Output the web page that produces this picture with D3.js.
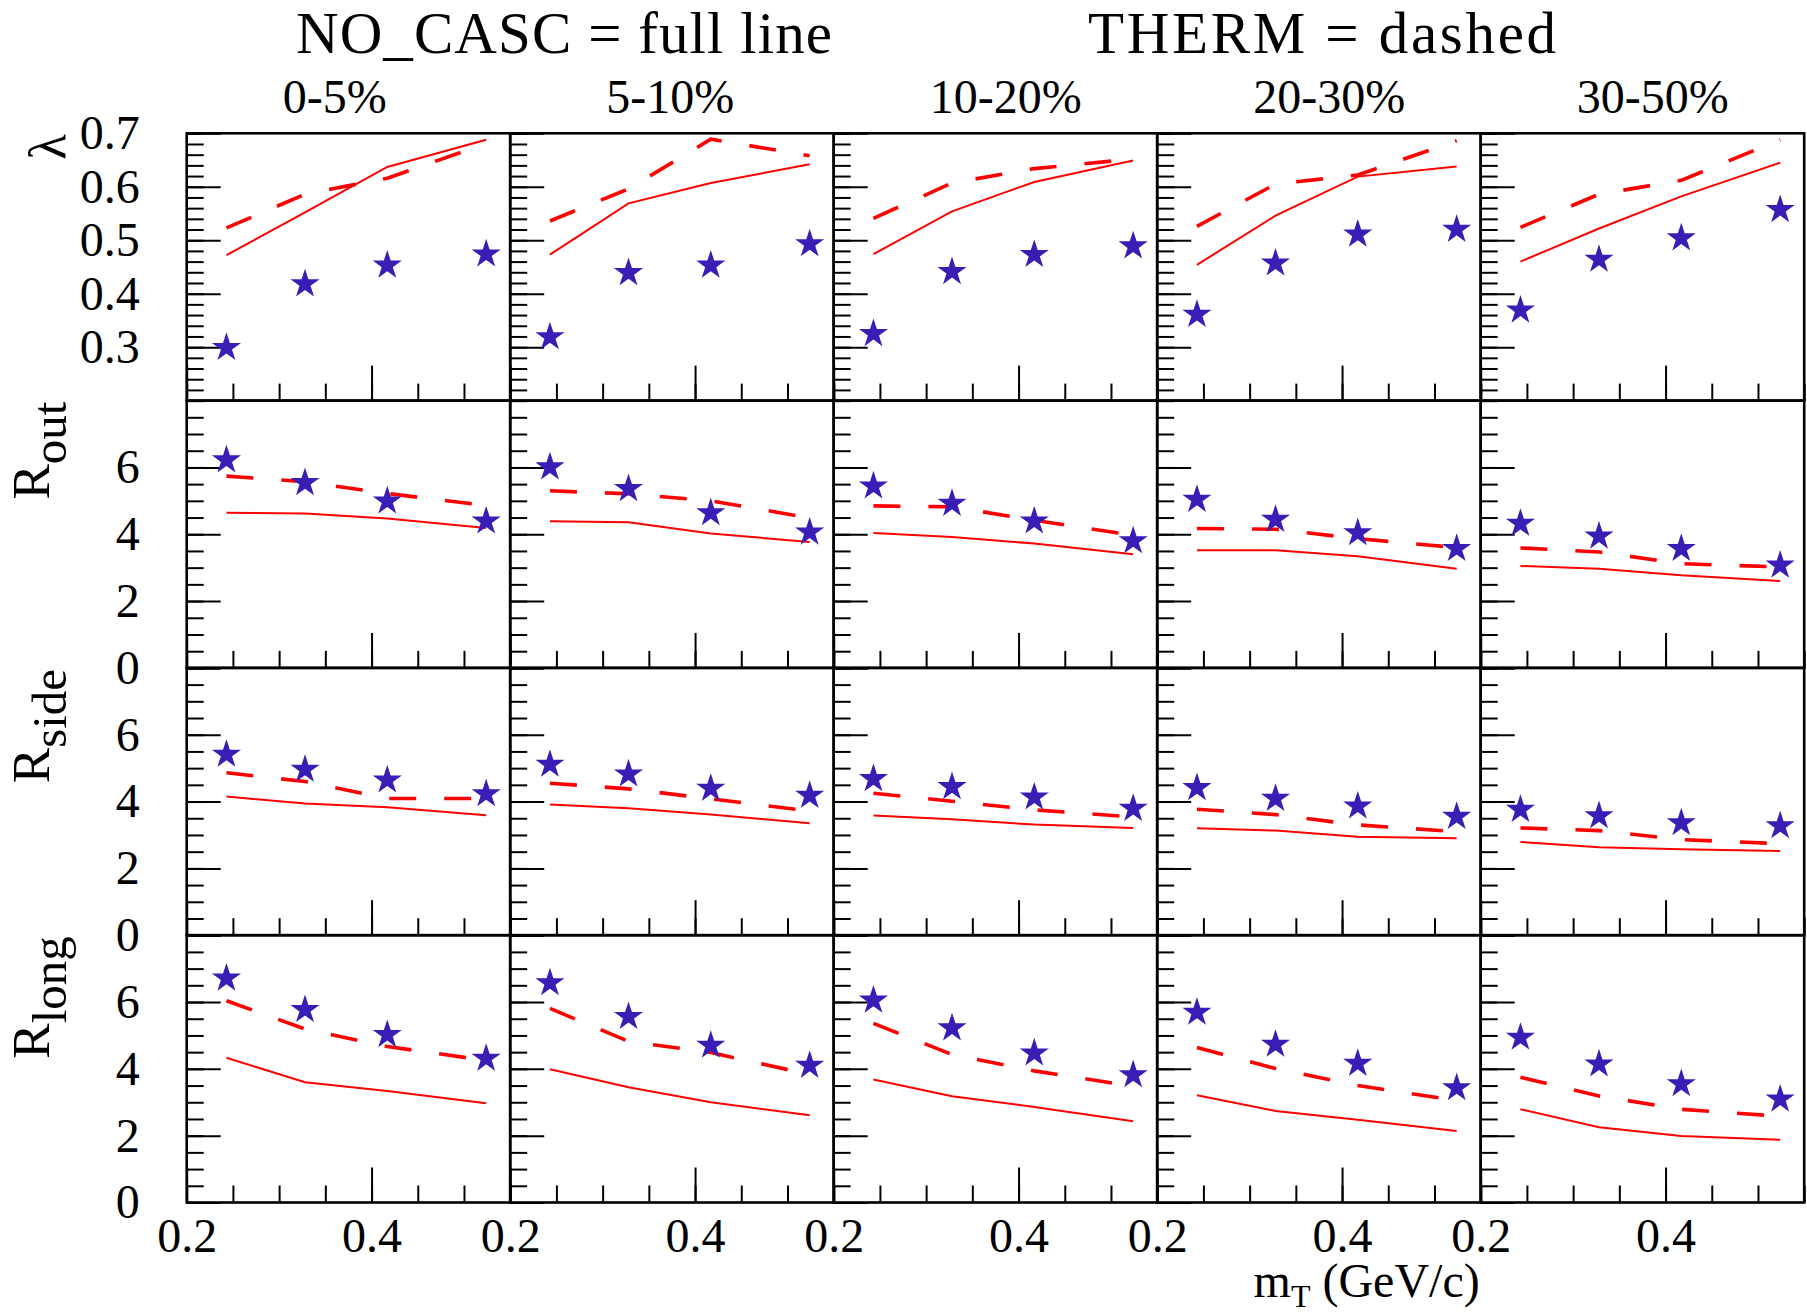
<!DOCTYPE html>
<html>
<head>
<meta charset="utf-8">
<script src="https://cdn.jsdelivr.net/npm/d3@7"></script>
<style>
  html, body { margin: 0; padding: 0; background: #ffffff; }
  svg { display: block; }
  text { font-family: "Liberation Serif", "Times New Roman", serif; fill: #000; }
</style>
</head>
<body>
<script>
// ---------------- data ----------------
const centralities = ["0-5%", "5-10%", "10-20%", "20-30%", "30-50%"];
const mT = [0.243, 0.328, 0.417, 0.524];

const mTTickLabels = [0.2, 0.4];
const lambdaTickLabels = [0.3, 0.4, 0.5, 0.6, 0.7];
const radiusTickLabels = [0, 2, 4, 6];

// measured (stars)
const lambdaData = [
  [0.299, 0.418, 0.453, 0.474],
  [0.319, 0.439, 0.453, 0.493],
  [0.325, 0.441, 0.473, 0.489],
  [0.361, 0.457, 0.511, 0.520],
  [0.369, 0.464, 0.504, 0.557]
];
const routData = [
  [6.22, 5.54, 4.99, 4.39],
  [6.01, 5.36, 4.64, 4.06],
  [5.44, 4.92, 4.39, 3.80],
  [5.04, 4.44, 4.04, 3.57],
  [4.32, 3.94, 3.57, 3.07]
];
const rsideData = [
  [5.41, 4.96, 4.64, 4.23],
  [5.11, 4.82, 4.39, 4.18],
  [4.68, 4.44, 4.13, 3.79],
  [4.41, 4.09, 3.86, 3.55],
  [3.76, 3.57, 3.36, 3.27]
];
const rlongData = [
  [6.71, 5.77, 5.02, 4.31],
  [6.57, 5.56, 4.70, 4.10],
  [6.05, 5.22, 4.47, 3.82],
  [5.69, 4.73, 4.16, 3.43],
  [4.94, 4.14, 3.55, 3.09]
];

// NO_CASC (full line)
const lambdaNoCasc = [
  [0.472, 0.552, 0.637, 0.688],
  [0.473, 0.569, 0.607, 0.642],
  [0.474, 0.554, 0.609, 0.649],
  [0.454, 0.546, 0.619, 0.638],
  [0.460, 0.522, 0.582, 0.645]
];
const routNoCasc = [
  [4.64, 4.62, 4.47, 4.19],
  [4.39, 4.36, 4.02, 3.77],
  [4.04, 3.92, 3.72, 3.40],
  [3.52, 3.52, 3.34, 2.97],
  [3.05, 2.97, 2.77, 2.60]
];
const rsideNoCasc = [
  [4.15, 3.94, 3.83, 3.59],
  [3.91, 3.80, 3.61, 3.35],
  [3.58, 3.47, 3.31, 3.21],
  [3.20, 3.13, 2.95, 2.90],
  [2.79, 2.63, 2.57, 2.52]
];
const rlongNoCasc = [
  [4.33, 3.60, 3.34, 2.97],
  [3.99, 3.45, 3.00, 2.61],
  [3.68, 3.18, 2.86, 2.43],
  [3.21, 2.74, 2.48, 2.14],
  [2.79, 2.25, 1.99, 1.88]
];

// THERM (dashed)
const lambdaTherm = [
  [0.523, 0.586, 0.616, 0.681],
  [0.536, 0.596, 0.689, 0.658],
  [0.541, 0.607, 0.634, 0.652],
  [0.526, 0.605, 0.622, 0.686],
  [0.524, 0.586, 0.612, 0.688]
];
const routTherm = [
  [5.74, 5.57, 5.22, 4.86],
  [5.30, 5.21, 5.00, 4.49],
  [4.85, 4.82, 4.42, 3.97],
  [4.17, 4.15, 3.87, 3.60],
  [3.59, 3.47, 3.12, 3.02]
];
const rsideTherm = [
  [4.86, 4.60, 4.09, 4.09],
  [4.55, 4.38, 4.08, 3.72],
  [4.25, 4.01, 3.75, 3.54],
  [3.77, 3.61, 3.30, 3.10],
  [3.21, 3.13, 2.86, 2.74]
];
const rlongTherm = [
  [6.04, 5.19, 4.67, 4.25],
  [5.81, 4.82, 4.49, 3.83],
  [5.36, 4.43, 3.94, 3.48],
  [4.64, 4.01, 3.50, 3.05],
  [3.75, 3.19, 2.79, 2.58]
];

// ---------------- layout ----------------
const W = 1807, H = 1314;
const plotLeft = 186.7, colW = 323.5;
const plotTop = 133.3, rowH = 267.3;
const RED = "#ff0000", STAR = "#3a1db4";
const FONT = "'Liberation Serif', 'Times New Roman', serif";

const rows = [
  { domain: [0.2, 0.7], majors: [0.2, 0.3, 0.4, 0.5, 0.6, 0.7], minorStep: 0.02,
    labels: lambdaTickLabels, fmt: d3.format(".1f"),
    data: lambdaData, noCasc: lambdaNoCasc, therm: lambdaTherm, title: "λ", sub: null },
  { domain: [0, 8], majors: [0, 2, 4, 6, 8], minorStep: 0.5,
    labels: radiusTickLabels, fmt: d3.format("d"),
    data: routData, noCasc: routNoCasc, therm: routTherm, title: "R", sub: "out" },
  { domain: [0, 8], majors: [0, 2, 4, 6, 8], minorStep: 0.5,
    labels: radiusTickLabels, fmt: d3.format("d"),
    data: rsideData, noCasc: rsideNoCasc, therm: rsideTherm, title: "R", sub: "side" },
  { domain: [0, 8], majors: [0, 2, 4, 6, 8], minorStep: 0.5,
    labels: radiusTickLabels, fmt: d3.format("d"),
    data: rlongData, noCasc: rlongNoCasc, therm: rlongTherm, title: "R", sub: "long" }
];

const svg = d3.select("body").append("svg")
  .attr("width", W).attr("height", H)
  .attr("viewBox", `0 0 ${W} ${H}`);
svg.append("rect").attr("width", W).attr("height", H).attr("fill", "#fff");

const star = d3.symbol(d3.symbolStar, 263);
const xMinor = d3.range(0, 8).map(k => +(0.2 + 0.05 * k).toFixed(2));
const xMajor = [0.2, 0.4];

rows.forEach((row, r) => {
  const top = plotTop + r * rowH;
  const bottom = top + rowH;
  const y = d3.scaleLinear().domain(row.domain).range([bottom, top]);
  const nMinor = Math.round((row.domain[1] - row.domain[0]) / row.minorStep);
  const yMinor = d3.range(0, nMinor + 1).map(k => row.domain[0] + k * row.minorStep);

  centralities.forEach((cent, c) => {
    const left = plotLeft + c * colW;
    const x = d3.scaleLinear().domain([0.2, 0.55]).range([left, left + colW]);
    const g = svg.append("g");

    // y minor ticks
    g.append("g").attr("transform", `translate(${left},0)`)
      .call(d3.axisLeft(y).tickValues(yMinor).tickSize(-17).tickFormat(""))
      .call(a => a.select(".domain").remove())
      .call(a => a.selectAll("line").attr("stroke", "#000").attr("stroke-width", 2));
    // y major ticks (+ labels in first column)
    const yMaj = g.append("g").attr("transform", `translate(${left},0)`)
      .call(d3.axisLeft(y).tickValues(row.majors).tickSize(-34).tickPadding(47)
        .tickFormat(v => (c === 0 && row.labels.some(l => Math.abs(l - v) < 1e-9)) ? row.fmt(v) : ""))
      .call(a => a.select(".domain").remove())
      .call(a => a.selectAll("line").attr("stroke", "#000").attr("stroke-width", 2));
    yMaj.selectAll("text").attr("font-size", 48)
      .attr("font-family", FONT).attr("fill", "#000");

    // x minor ticks
    g.append("g").attr("transform", `translate(0,${bottom})`)
      .call(d3.axisBottom(x).tickValues(xMinor).tickSize(-17).tickFormat(""))
      .call(a => a.select(".domain").remove())
      .call(a => a.selectAll("line").attr("stroke", "#000").attr("stroke-width", 2));
    // x major ticks (+ labels in last row)
    const xMaj = g.append("g").attr("transform", `translate(0,${bottom})`)
      .call(d3.axisBottom(x).tickValues(xMajor).tickSize(-35).tickPadding(15)
        .tickFormat(v => (r === rows.length - 1 && mTTickLabels.includes(v)) ? d3.format(".1f")(v) : ""))
      .call(a => a.select(".domain").remove())
      .call(a => a.selectAll("line").attr("stroke", "#000").attr("stroke-width", 2));
    xMaj.selectAll("text").attr("font-size", 48)
      .attr("font-family", FONT).attr("fill", "#000");

    // model lines
    const line = d3.line().x((d, i) => x(mT[i])).y(d => y(d));
    g.append("path").datum(row.noCasc[c]).attr("d", line)
      .attr("fill", "none").attr("stroke", RED).attr("stroke-width", 2);
    g.append("path").datum(row.therm[c]).attr("d", line)
      .attr("fill", "none").attr("stroke", RED).attr("stroke-width", 3.6)
      .attr("stroke-dasharray", "27,28");

    // data stars
    g.selectAll("path.star").data(row.data[c]).join("path")
      .attr("class", "star")
      .attr("d", star)
      .attr("transform", (d, i) => `translate(${x(mT[i])},${y(d)})`)
      .attr("fill", STAR);

    // frame
    g.append("rect").attr("x", left).attr("y", top)
      .attr("width", colW).attr("height", rowH)
      .attr("fill", "none").attr("stroke", "#000").attr("stroke-width", 2.6);
  });

  // y-axis title
  if (row.sub === null) {
    svg.append("text")
      .attr("transform", `translate(65,${top + 1}) rotate(-90)`)
      .attr("text-anchor", "end").attr("font-size", 52)
      .text(row.title);
  } else {
    const t = svg.append("text")
      .attr("transform", `translate(49,${top + 1}) rotate(-90)`)
      .attr("text-anchor", "end").attr("font-size", 53);
    t.append("tspan").text(row.title);
    t.append("tspan").attr("font-size", 49).attr("dy", 17).text(row.sub);
  }
});

// column labels
centralities.forEach((cent, c) => {
  svg.append("text")
    .attr("x", plotLeft + c * colW + 96).attr("y", 113)
    .attr("font-size", 48).text(cent);
});

// top titles
svg.append("text").attr("x", 296).attr("y", 53).attr("font-size", 59)
  .attr("textLength", 536).attr("lengthAdjust", "spacing")
  .text("NO_CASC = full line");
svg.append("text").attr("x", 1088).attr("y", 53).attr("font-size", 59)
  .attr("textLength", 468).attr("lengthAdjust", "spacing")
  .text("THERM = dashed");

// x-axis title
const xt = svg.append("text")
  .attr("x", plotLeft + 4 * colW - 1).attr("y", 1297)
  .attr("text-anchor", "end").attr("font-size", 48);
xt.append("tspan").text("m");
xt.append("tspan").attr("font-size", 32).attr("dy", 10).text("T");
xt.append("tspan").attr("dy", -10).text(" (GeV/c)");
</script>
</body>
</html>
